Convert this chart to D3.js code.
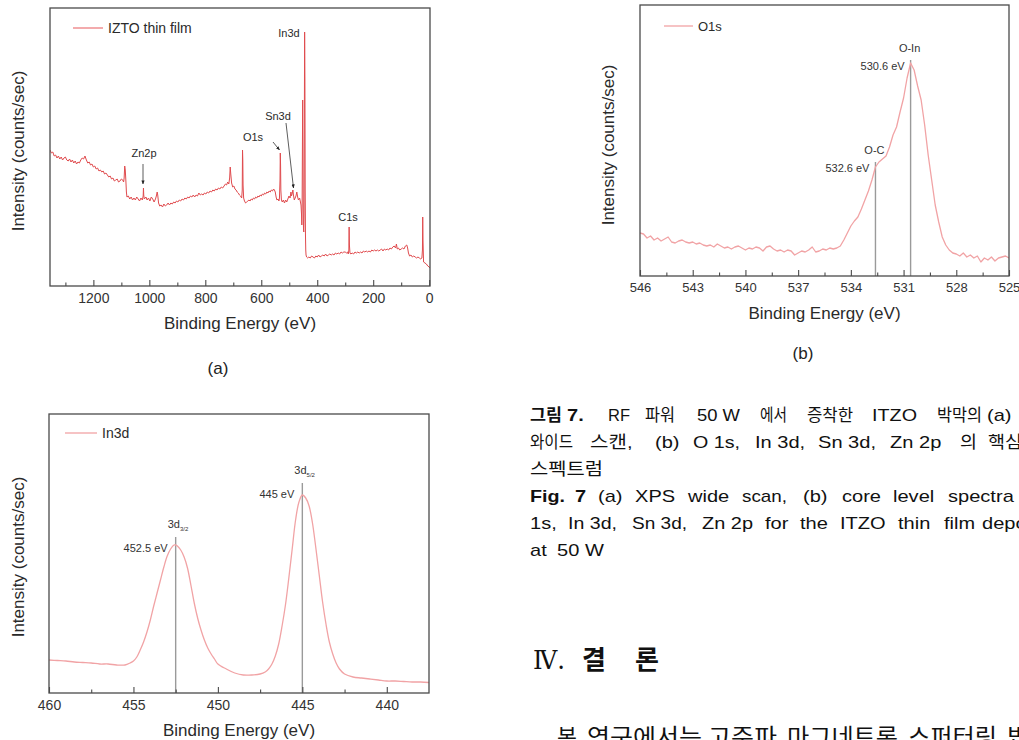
<!DOCTYPE html>
<html><head><meta charset="utf-8">
<script src="https://cdn.jsdelivr.net/npm/d3@7"></script>
<style>
html,body{margin:0;padding:0;background:#fff;overflow:hidden}
svg{display:block}
</style></head><body>
<svg id="c" width="1019" height="740"></svg>
<script>
// ---------------- DATA ----------------
// (a) XPS wide scan: [binding energy eV, intensity a.u.]
const wideScan = [
[1355,136],[1350,133],[1345,134],[1340,130],[1335,131],[1330,128],[1325,130],[1320,127],[1315,129],[1310,126],
[1305,128],[1300,129],[1295,126],[1290,125],[1285,127],[1280,124],[1275,126],[1270,123],[1265,125],[1260,122],
[1255,124],[1250,123],[1245,126],[1240,128],[1235,127],[1230,130],[1225,126],[1220,123],[1215,124],[1210,121],
[1205,122],[1200,119],[1195,120],[1190,117],[1185,118],[1180,115],[1175,116],[1170,114],[1165,115],[1160,112],
[1155,113],[1150,111],[1145,109],[1140,110],[1135,107],[1130,108],[1125,105],[1120,106],[1115,107],[1110,104],
[1105,105],[1100,107],[1095,106],[1092,104],[1090,108],[1088,120],[1086,116],[1084,106],[1082,94],[1080,89],
[1075,90],[1070,87],[1065,89],[1060,86],[1055,88],[1050,86],[1045,89],[1040,87],[1035,85],[1030,88],
[1025,86],[1022,90],[1021,98],[1020,91],[1018,87],[1012,89],[1008,86],[1003,88],[998,85],[993,89],
[988,87],[983,84],[978,87],[975,90],[972,94],[970,91],[967,83],[963,80],[958,81],[953,79],
[948,82],[943,80],[938,81],[933,83],[928,81],[923,83],[918,82],[913,84],[908,83],[903,85],
[898,84],[893,86],[888,85],[883,87],[878,86],[873,88],[868,87],[863,89],[858,88],[853,90],
[848,89],[843,91],[838,89],[833,91],[828,90],[823,93],[818,91],[813,92],[808,91],[803,93],
[798,92],[793,94],[788,93],[783,95],[778,94],[773,96],[768,95],[763,97],[758,96],[753,98],
[748,97],[743,99],[738,98],[733,100],[728,102],[724,101],[720,104],[716,102],[713,108],[711,119],
[709,112],[706,103],[702,99],[698,100],[694,97],[690,96],[686,94],[682,93],[678,91],[674,90],
[670,88],[668,96],[667,136],[666,126],[665,101],[663,88],[660,85],[656,83],[652,84],[648,85],
[644,86],[640,85],[636,87],[632,86],[628,88],[624,87],[620,89],[616,88],[612,90],[608,89],
[604,91],[600,90],[596,92],[592,91],[588,93],[584,92],[580,94],[576,93],[572,95],[568,94],
[564,96],[560,95],[556,97],[553,96],[550,94],[547,89],[544,86],[540,87],[537,85],[535,88],
[533,106],[532,133],[531,121],[530,96],[528,86],[525,84],[521,86],[517,83],[513,86],[509,84],
[505,87],[501,90],[497,88],[494,94],[492,90],[489,93],[487,96],[485,91],[482,86],[479,88],
[476,90],[473,94],[470,89],[467,86],[463,88],[460,84],[458,81],[456,71],[455,61],[454,81],
[453,136],[452,186],[451,136],[450,76],[449,56],[448,54],[447,71],[446,166],[445,254],[444,206],
[443,96],[442,51],[441,36],[440,31],[438,29],[434,28],[430,29],[425,28],[420,30],[415,29],
[410,28],[405,30],[400,29],[395,31],[390,29],[385,30],[380,31],[375,30],[370,32],[365,30],
[360,31],[355,32],[350,31],[345,32],[340,31],[335,33],[330,32],[325,33],[320,32],[315,34],
[310,33],[305,34],[300,34],[296,33],[292,34],[289,32],[287,36],[286,59],[285,41],[283,33],
[280,32],[275,33],[270,32],[265,34],[260,33],[255,34],[250,33],[245,34],[240,33],[235,35],
[230,34],[225,35],[220,34],[215,35],[210,34],[205,36],[200,35],[195,36],[190,35],[185,36],
[180,35],[175,36],[170,37],[165,35],[160,37],[155,36],[150,37],[145,36],[140,38],[135,37],
[130,39],[125,40],[120,38],[117,42],[114,37],[110,38],[105,36],[100,37],[95,38],[90,37],
[85,40],[80,41],[77,38],[74,33],[70,30],[65,31],[60,29],[55,30],[50,29],[45,28],
[40,29],[35,28],[30,27],[26,28],[24,36],[23,69],[22,46],[20,24],[15,23],[10,22],
[5,20],[0,19],[-3,18]
];
const wideMajorTicks = [1200,1000,800,600,400,200,0];
const wideMinorTicks = [1300,1100,900,700,500,300,100];
const widePeakLabels = ["In3d","Sn3d","O1s","Zn2p","C1s"];

// (b) O1s core level
const o1s = [
[546.0,43],[545.8,42],[545.6,38],[545.4,40],[545.2,36],[545.0,38],[544.8,35],[544.6,37],[544.4,39],[544.2,34],
[544.0,33],[543.8,35],[543.6,36],[543.4,34],[543.2,33],[543.0,34],[542.8,32],[542.6,33],[542.4,31],[542.2,30],
[542.0,31],[541.8,29],[541.6,32],[541.4,30],[541.2,28],[541.0,29],[540.8,27],[540.6,29],[540.4,30],[540.2,28],
[540.0,26],[539.8,28],[539.6,27],[539.4,29],[539.2,28],[539.0,25],[538.8,29],[538.6,30],[538.4,27],[538.2,25],
[538.0,26],[537.8,24],[537.6,26],[537.4,25],[537.2,21],[537.0,23],[536.8,25],[536.6,24],[536.4,26],[536.2,29],
[536.0,24],[535.8,25],[535.6,27],[535.4,26],[535.2,28],[535.0,27],[534.8,28],[534.6,30],[534.4,36],[534.2,43],
[534.0,50],[533.8,55],[533.6,59],[533.4,67],[533.2,76],[533.0,85],[532.8,96],[532.6,109],[532.4,114],[532.2,117],
[532.0,120],[531.8,129],[531.6,141],[531.4,149],[531.2,164],[531.0,178],[530.8,198],[530.6,213],[530.4,206],[530.2,190],
[530.0,176],[529.8,151],[529.6,121],[529.4,96],[529.2,71],[529.0,54],[528.8,39],[528.6,31],[528.4,26],[528.2,23],
[528.0,22],[527.8,20],[527.6,23],[527.4,19],[527.2,21],[527.0,18],[526.8,20],[526.6,14],[526.4,18],[526.2,16],
[526.0,19],[525.8,15],[525.6,18],[525.4,19],[525.2,20],[525.0,18]
];
const o1sMajorTicks = [546,543,540,537,534,531,528,525];
const o1sMinorTicks = [544.5,541.5,538.5,535.5,532.5,529.5,526.5];
const o1sMarkers = [ {name:"O-C", energy:532.6, top:114, label:"532.6 eV"},
                     {name:"O-In", energy:530.6, top:216, label:"530.6 eV"} ];

// (c) In3d core level
const in3d = [
[460.0,33],[459.5,32.5],[459.0,32],[458.5,31],[458.0,30.5],[457.5,30],[457.0,29],[456.5,29],[456.0,28],[455.5,28],
[455.2,30],[455.0,32],[454.8,36],[454.6,43],[454.4,51],[454.2,61],[454.0,73],[453.8,87],[453.6,100],[453.4,113],
[453.2,126],[453.0,137],[452.8,144],[452.6,148],[452.5,148],[452.4,147],[452.2,143],[452.0,136],[451.8,125],[451.6,108],
[451.4,90],[451.2,75],[451.0,63],[450.8,53],[450.6,45],[450.4,39],[450.2,34],[450.0,29],[449.5,24],[449.0,20],
[448.5,18],[448.0,18],[447.5,19],[447.2,21],[447.0,24],[446.8,29],[446.6,37],[446.4,49],[446.2,67],[446.0,88],
[445.8,115],[445.6,144],[445.4,173],[445.2,191],[445.0,198],[444.8,195],[444.6,187],[444.4,170],[444.2,145],[444.0,118],
[443.8,91],[443.6,69],[443.4,51],[443.2,39],[443.0,30],[442.8,24],[442.5,19],[442.0,16],[441.5,15],[441.0,14],
[440.5,13],[440.0,12],[439.5,12],[439.0,11.5],[438.5,11],[438.0,11],[437.5,10.5]
];
const in3dMajorTicks = [460,455,450,445,440];
const in3dMinorTicks = [457.5,452.5,447.5,442.5];
const in3dMarkers = [ {sub:"3/2", energy:452.5, top:156, label:"452.5 eV"},
                      {sub:"5/2", energy:445, top:210, label:"445 eV"} ];

// ---------------- DRAW ----------------
const svg = d3.select("#c");
const FONT = "'Liberation Sans', Arial, sans-serif";
const KFONT = "'Liberation Sans','Noto Sans CJK KR',sans-serif";

const defs = svg.append("defs");
defs.append("marker").attr("id","arr").attr("viewBox","0 0 10 10").attr("refX",9).attr("refY",5)
  .attr("markerWidth",5).attr("markerHeight",5).attr("orient","auto-start-reverse")
  .append("path").attr("d","M0,1L10,5L0,9z").attr("fill","#222");

function panel(o){
  const x = d3.scaleLinear().domain(o.xDomain).range([o.left,o.right]);
  const y = d3.scaleLinear().domain(o.yDomain).range([o.bottom,o.top]);
  const g = svg.append("g");
  defs.append("clipPath").attr("id","clip"+o.id).append("rect")
    .attr("x",o.left).attr("y",o.top).attr("width",o.right-o.left).attr("height",o.bottom-o.top);
  (o.markers||[]).forEach(m=>{
    g.append("line").attr("x1",x(m.energy)).attr("x2",x(m.energy))
      .attr("y1",o.bottom).attr("y2",y(m.top)).attr("stroke","#9a9a9a").attr("stroke-width",1.4);
  });
  g.append("path").datum(o.data).attr("clip-path",`url(#clip${o.id})`)
    .attr("d",d3.line().x(d=>x(d[0])).y(d=>y(d[1])).curve(o.curve||d3.curveLinear))
    .attr("fill","none").attr("stroke",o.color).attr("stroke-width",o.sw).attr("stroke-linejoin","round");
  g.append("rect").attr("x",o.left).attr("y",o.top).attr("width",o.right-o.left).attr("height",o.bottom-o.top)
    .attr("fill","none").attr("stroke","#4a4a4a").attr("stroke-width",1.3);
  const ax = g.append("g").attr("transform",`translate(0,${o.bottom})`)
    .call(d3.axisBottom(x).tickValues(o.majors).tickSizeInner(-6).tickSizeOuter(0).tickPadding(7).tickFormat(d3.format("d")));
  ax.select(".domain").remove();
  ax.selectAll("line").attr("stroke","#4a4a4a").attr("stroke-width",1.1);
  ax.selectAll("text").attr("font-family",FONT).attr("font-size",o.tickFont).attr("fill","#333");
  const mx = g.append("g").attr("transform",`translate(0,${o.bottom})`)
    .call(d3.axisBottom(x).tickValues(o.minors).tickSizeInner(-3.5).tickSizeOuter(0).tickFormat(""));
  mx.select(".domain").remove();
  mx.selectAll("line").attr("stroke","#4a4a4a").attr("stroke-width",1.1);
  g.append("text").attr("x",(o.left+o.right)/2).attr("y",o.bottom+43).attr("text-anchor","middle")
    .attr("font-family",FONT).attr("font-size",17).attr("fill","#2a2a2a").text("Binding Energy (eV)");
  g.append("text").attr("transform",`translate(${o.yTitleX},${o.yTitleY}) rotate(-90)`).attr("dy","0.35em")
    .attr("text-anchor","middle").attr("font-family",FONT).attr("font-size",17).attr("fill","#2a2a2a")
    .text("Intensity (counts/sec)");
  g.append("line").attr("x1",o.leg[0]).attr("x2",o.leg[1]).attr("y1",o.leg[2]).attr("y2",o.leg[2])
    .attr("stroke",o.legColor).attr("stroke-width",1.3);
  g.append("text").attr("x",o.leg[1]+5).attr("y",o.leg[2]+5).attr("font-family",FONT).attr("font-size",o.legFont)
    .attr("fill","#2a2a2a").text(o.legText);
  return {x,y,g};
}

// (a)
const A = panel({id:"a", xDomain:[1355,-3], yDomain:[0,278], left:50, right:430, top:8, bottom:286,
  data:wideScan, color:"#e04b4e", sw:1, majors:wideMajorTicks, minors:wideMinorTicks, tickFont:14,
  yTitleX:18, yTitleY:151, leg:[73,103,28], legColor:"#ec7d80", legText:"IZTO thin film", legFont:14});
const aLab = [[289,37],[278,120],[253,141],[144,157],[348,221]];
widePeakLabels.forEach((t,i)=>{
  A.g.append("text").attr("x",aLab[i][0]).attr("y",aLab[i][1]).attr("text-anchor","middle")
    .attr("font-family",FONT).attr("font-size",11).attr("fill","#2a2a2a").text(t);
});
[[143,164,143,184],[273,142,279.5,150],[286,123,293.5,188]].forEach(a=>{
  A.g.append("line").attr("x1",a[0]).attr("y1",a[1]).attr("x2",a[2]).attr("y2",a[3])
    .attr("stroke","#333").attr("stroke-width",0.8).attr("marker-end","url(#arr)");
});

// (b)
const B = panel({id:"b", xDomain:[546,525], yDomain:[0,271], left:640, right:1009, top:5, bottom:276,
  data:o1s, color:"#f1a3a5", sw:1.3, majors:o1sMajorTicks, minors:o1sMinorTicks, tickFont:13,
  yTitleX:608, yTitleY:145, leg:[664,693,26], legColor:"#f1a3a5", legText:"O1s", legFont:13, markers:o1sMarkers});
o1sMarkers.forEach(m=>{
  const px = B.x(m.energy), py = B.y(m.top);
  B.g.append("text").attr("x",px-1).attr("y",py-8).attr("text-anchor","middle").attr("font-family",FONT)
    .attr("font-size",11).attr("fill","#333").text(m.name);
  B.g.append("text").attr("x",px-6).attr("y",py+10).attr("text-anchor","end").attr("font-family",FONT)
    .attr("font-size",11).attr("fill","#333").text(m.label);
});

// (c)
const C = panel({id:"c", xDomain:[460,437.5], yDomain:[0,279], left:49, right:429, top:414, bottom:693,
  data:in3d, color:"#f1a3a5", sw:1.3, majors:in3dMajorTicks, minors:in3dMinorTicks, tickFont:14,
  yTitleX:18, yTitleY:557, leg:[65,97,433], legColor:"#f1a3a5", legText:"In3d", legFont:14,
  markers:in3dMarkers, curve:d3.curveCatmullRom});
in3dMarkers.forEach(m=>{
  const px = C.x(m.energy), py = C.y(m.top);
  const t = C.g.append("text").attr("x",px-8).attr("y",py-9).attr("font-family",FONT)
    .attr("font-size",11).attr("fill","#333");
  t.append("tspan").text("3d");
  t.append("tspan").attr("dy",3).attr("font-size",6).text(m.sub);
  C.g.append("text").attr("x",px-8).attr("y",py+15).attr("text-anchor","end").attr("font-family",FONT)
    .attr("font-size",11).attr("fill","#333").text(m.label);
});

// panel tags
svg.append("text").attr("x",218).attr("y",374).attr("text-anchor","middle").attr("font-family",FONT)
  .attr("font-size",17).attr("fill","#222").text("(a)");
svg.append("text").attr("x",803).attr("y",359).attr("text-anchor","middle").attr("font-family",FONT)
  .attr("font-size",17).attr("fill","#222").text("(b)");

// ---------------- CAPTION / TEXT ----------------
const captionLines = [
 {y:421, words:[["그림",530,562,1],["7.",567,585,1],["RF",608,630],["파워",645,675],["50 W",697,740],["에서",760,787],["증착한",807,853],["ITZO",872,917],["박막의",937,982],["(a)",987,1021]]},
 {y:448, words:[["와이드",530,573],["스캔,",590,635],["(b)",655,683],["O 1s,",693,740],["In 3d,",755,807],["Sn 3d,",818,877],["Zn 2p",890,945],["의",960,977],["핵심",988,1022]]},
 {y:475, words:[["스펙트럼",530,603]]},
 {y:502, words:[["Fig.",530,565,1],["7",575,587,1],["(a)",598,623],["XPS",635,677],["wide",688,732],["scan,",742,787],["(b)",803,830],["core",842,882],["level",893,937],["spectra",948,1017]]},
 {y:529, words:[["1s,",530,560],["In 3d,",568,617],["Sn 3d,",632,687],["Zn 2p",702,753],["for",765,793],["the",800,830],["ITZO",840,888],["thin",898,935],["film",944,975],["deposited",982,1085]]},
 {y:556, words:[["at",530,547],["50 W",557,605]]}
];
captionLines.forEach(l=>{
  l.words.forEach(w=>{
    const t = svg.append("text").attr("x",w[1]).attr("y",l.y).attr("font-family",KFONT).attr("font-size",17)
      .attr("font-weight",w[3]?"bold":"normal").attr("fill","#111").text(w[0]);
    const natural = t.node().getComputedTextLength();
    const target = w[2]-w[1];
    const len = Math.min(target, natural*1.18);
    if (Math.abs(len-natural) > 0.5) t.attr("textLength",len).attr("lengthAdjust","spacingAndGlyphs");
  });
});
// section heading
svg.append("text").attr("x",533).attr("y",669).attr("font-family","'DejaVu Serif','Noto Sans CJK KR',serif")
  .attr("font-size",26).attr("fill","#111").attr("textLength",32).attr("lengthAdjust","spacingAndGlyphs").text("Ⅳ.");
[["결",582,607],["론",635,662]].forEach(w=>{
  svg.append("text").attr("x",w[1]).attr("y",669).attr("font-family","'Noto Sans CJK KR',sans-serif")
    .attr("font-size",26).attr("font-weight","bold").attr("fill","#111").text(w[0]);
});
// body line (cut by page bottom, as in the reference)
[["본",557,577],["연구에서는",587,702],["고주파",708,777],["마그네트론",787,898],["스퍼터링",908,997],["법",1007,1030]].forEach(w=>{
  svg.append("text").attr("x",w[1]).attr("y",745).attr("font-family","'Noto Sans CJK KR',sans-serif")
    .attr("font-size",23).attr("fill","#111").attr("textLength",w[2]-w[1]).attr("lengthAdjust","spacingAndGlyphs").text(w[0]);
});
</script></body></html>
